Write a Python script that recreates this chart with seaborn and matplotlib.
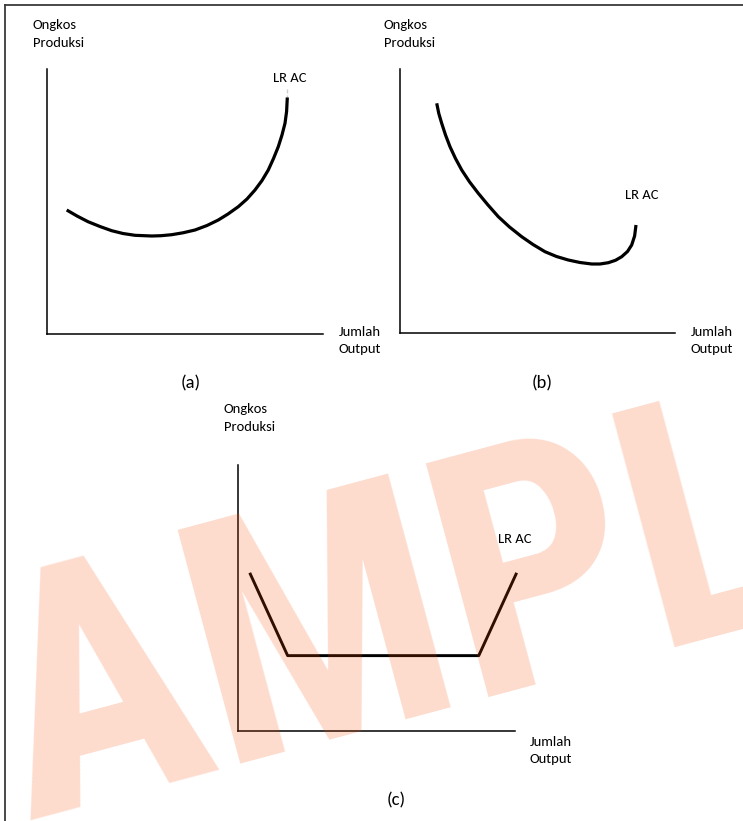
import matplotlib
matplotlib.use("Agg")
import pandas as pd
import seaborn as sns
import matplotlib.pyplot as plt

# figure size in pixels (dpi 100)
W, H = 743, 821

# panel (a): LR AC rising (diseconomies of scale)
a_output = [0.714, 1.087, 1.486, 1.920, 2.344, 2.754, 3.188, 3.793, 4.130, 4.518, 4.928, 5.362, 5.797,
            6.207, 6.558, 6.931, 7.246, 7.536, 7.790, 8.018, 8.207, 8.380, 8.514, 8.623, 8.681, 8.707, 8.707]
a_cost = [4.698, 4.472, 4.257, 4.075, 3.917, 3.811, 3.743, 3.717, 3.728, 3.766, 3.838, 3.943, 4.113,
          4.321, 4.547, 4.823, 5.113, 5.453, 5.811, 6.208, 6.642, 7.087, 7.528, 7.970, 8.415, 8.849, 9.038]
a_tip_output = [8.707, 8.707]
a_tip_cost = [9.11, 9.25]

# panel (b): LR AC falling (economies of scale)
b_output = [1.335, 1.411, 1.516, 1.655, 1.818, 2.018, 2.244, 2.527, 2.847, 3.200, 3.575, 3.982, 4.425, 4.836,
            5.273, 5.691, 6.120, 6.545, 6.971, 7.273, 7.575, 7.836, 8.062, 8.273, 8.425, 8.531, 8.582]
b_cost = [8.702, 8.316, 7.946, 7.503, 7.060, 6.614, 6.179, 5.732, 5.297, 4.854, 4.412, 4.022, 3.655, 3.360,
          3.087, 2.906, 2.773, 2.679, 2.622, 2.622, 2.671, 2.762, 2.898, 3.095, 3.341, 3.681, 4.098]

# panel (c): LR AC with flat bottom (constant returns)
c_output = [0.41, 1.78, 8.69, 10.06]
c_cost = [5.94, 2.82, 2.82, 5.94]

axis_title_y = ["Ongkos", "Produksi"]
axis_title_x = ["Jumlah", "Output"]
curve_label = "LR AC"
panel_labels = ["(a)", "(b)", "(c)"]

sns.set_style("white")
plt.rcParams["font.family"] = ["Carlito", "DejaVu Sans"]

fig = plt.figure(figsize=(W / 100, H / 100), dpi=100)


def px_axes(left, top, right, bottom, **kw):
    return fig.add_axes([left / W, 1 - bottom / H, (right - left) / W, (bottom - top) / H], **kw)


def px_text(x, y, s, **kw):
    kw.setdefault("fontsize", 10.5)
    kw.setdefault("va", "baseline")
    fig.text(x / W, 1 - y / H, s, color="black", **kw)


# page frame (top and left border only)
frame = px_axes(5, 5, W + 2, H + 2)
frame.set_xticks([])
frame.set_yticks([])
frame.patch.set_alpha(0)
for side in ["right", "bottom"]:
    frame.spines[side].set_visible(False)
for side in ["top", "left"]:
    frame.spines[side].set_color("#3a3a3a")
    frame.spines[side].set_linewidth(1.3)


def econ_axes(box):
    ax = px_axes(*box)
    ax.set_xlim(0, 10)
    ax.set_ylim(0, 10)
    ax.set_xticks([])
    ax.set_yticks([])
    ax.patch.set_alpha(0)
    for side in ["top", "right"]:
        ax.spines[side].set_visible(False)
    for side in ["left", "bottom"]:
        ax.spines[side].set_color("black")
        ax.spines[side].set_linewidth(1.1)
    return ax


curve_kw = dict(sort=False, color="black", solid_joinstyle="round", solid_capstyle="butt")

ax_a = econ_axes((47, 69.5, 323, 334.5))
df_a = pd.DataFrame({"output": a_output, "cost": a_cost})
sns.lineplot(data=df_a, x="output", y="cost", linewidth=2.3, ax=ax_a, **curve_kw)
sns.lineplot(x=a_tip_output, y=a_tip_cost, linewidth=2.3, ax=ax_a, **curve_kw)
ax_a.set_xlabel("")
ax_a.set_ylabel("")

ax_b = econ_axes((400, 69, 675, 333.3))
df_b = pd.DataFrame({"output": b_output, "cost": b_cost})
sns.lineplot(data=df_b, x="output", y="cost", linewidth=2.3, ax=ax_b, **curve_kw)
ax_b.set_xlabel("")
ax_b.set_ylabel("")

ax_c = econ_axes((238.4, 465, 515, 730.5))
df_c = pd.DataFrame({"output": c_output, "cost": c_cost})
sns.lineplot(data=df_c, x="output", y="cost", linewidth=2.1, ax=ax_c, **curve_kw)
for ln in ax_c.lines:
    ln.set_clip_on(False)
ax_c.set_xlabel("")
ax_c.set_ylabel("")

# labels panel (a)
px_text(32.5, 29.3, axis_title_y[0])
px_text(32.5, 46.7, axis_title_y[1])
px_text(272.7, 81.7, curve_label)
px_text(338.3, 336, axis_title_x[0])
px_text(338.3, 352.5, axis_title_x[1])
px_text(190.5, 383, panel_labels[0], fontsize=13.4, ha="center", va="center")

# labels panel (b)
px_text(384, 29.3, axis_title_y[0])
px_text(384, 46.7, axis_title_y[1])
px_text(625, 199.3, curve_label)
px_text(690.7, 336, axis_title_x[0])
px_text(690.7, 352.5, axis_title_x[1])
px_text(542.6, 383, panel_labels[1], fontsize=13.4, ha="center", va="center")

# labels panel (c)
px_text(224, 413, axis_title_y[0])
px_text(224, 430.7, axis_title_y[1])
px_text(497.6, 543, curve_label)
px_text(530, 745.7, axis_title_x[0])
px_text(530, 763, axis_title_x[1])
px_text(396, 800, panel_labels[2], fontsize=13.4, ha="center", va="center")

# sample watermark drawn over the page
fig.text(26 / W, 1 - 820 / H, "AMPL", rotation=15, rotation_mode="anchor",
         ha="left", va="baseline", fontsize=244, fontweight="bold",
         family=["Roboto Condensed", "Liberation Sans"],
         color="#F8500A", alpha=0.2, zorder=10)

fig.savefig("out.png", dpi=100)
